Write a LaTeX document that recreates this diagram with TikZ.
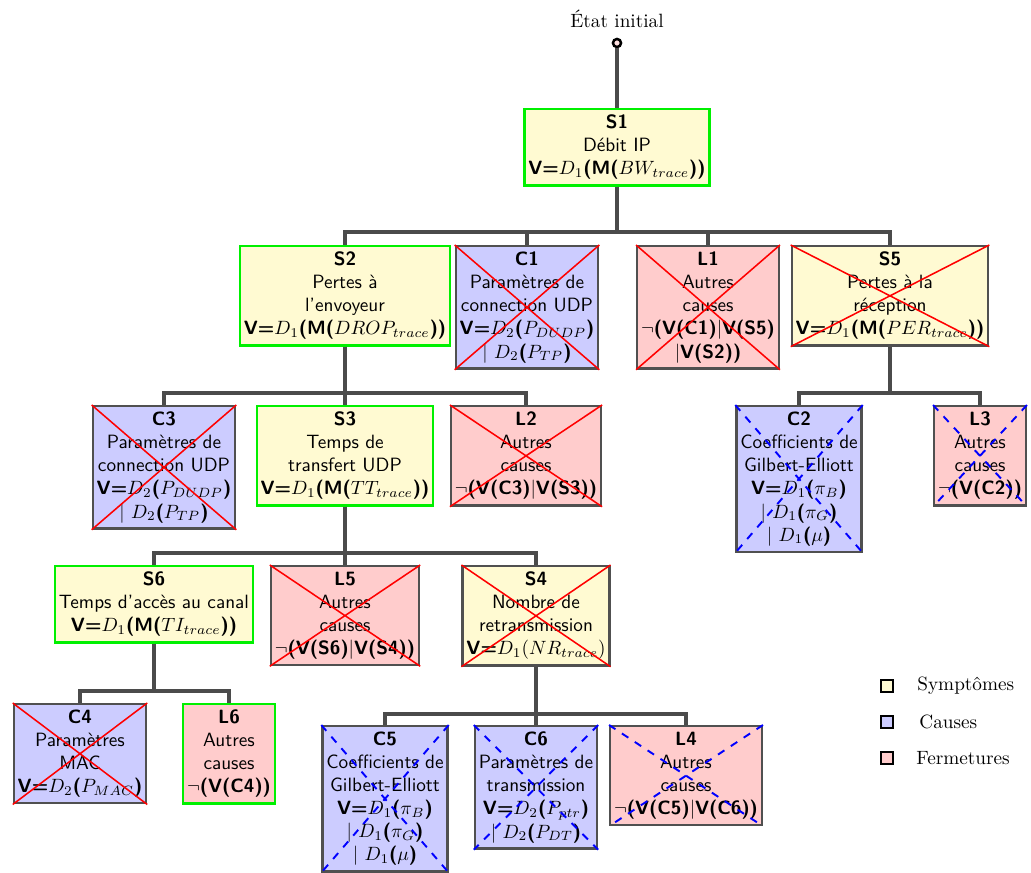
\documentclass[tikz,border=0pt]{standalone}
\usetikzlibrary{calc}
\definecolor{boxgray}{RGB}{80,80,80}
\definecolor{linegray}{RGB}{75,75,75}
\definecolor{okgreen}{RGB}{0,240,0}
\definecolor{sympfill}{RGB}{255,250,210}
\definecolor{causefill}{RGB}{204,204,255}
\definecolor{fermfill}{RGB}{255,204,204}
\newcommand\VV{\textbf{V=}}
\newcommand\bo[1]{\textbf{#1}}
\newcommand\mycrossred[1]{\draw[redx] (#1.north west) -- (#1.south east) (#1.north east) -- (#1.south west);}
\newcommand\mycrossblue[1]{\draw[bluex] (#1.north west) -- (#1.south east) (#1.north east) -- (#1.south west);}
\begin{document}
\begin{tikzpicture}[x=0.52pt,y=-0.52pt,
  box/.style={draw=boxgray, line width=1.2pt, align=center, font=\sffamily, inner xsep=2pt, inner ysep=3pt, anchor=north},
  symp/.style={box, fill=sympfill},
  cause/.style={box, fill=causefill},
  ferm/.style={box, fill=fermfill},
  okbox/.style={draw=okgreen},
  conn/.style={draw=linegray, line width=1.8pt},
  redx/.style={draw=red, line width=0.8pt},
  bluex/.style={draw=blue, line width=1pt, dash pattern=on 4pt off 4pt},
  legsq/.style={draw=black, line width=1.1pt, minimum size=6pt, inner sep=0pt},
  legtxt/.style={anchor=west, inner sep=0pt}]
\useasboundingbox (0,0) rectangle (1031,872);

% initial state
\node (title) at (617,19) {État initial};
\node[circle, draw=black, line width=1.3pt, fill=red!12, minimum size=4.2pt, inner sep=0pt] (init) at (617,43) {};

% level 1
\node[symp, okbox] (S1) at (617,108) {\bo{S1}\\Débit IP\\\VV$D_1$\bo{(M(}$BW_{trace}$\bo{))}};

% level 2
\node[symp, okbox] (S2) at (345,245) {\bo{S2}\\Pertes à\\l'envoyeur\\\VV$D_1$\bo{(M(}$DROP_{trace}$\bo{))}};
\node[cause] (C1) at (527,245) {\bo{C1}\\Paramètres de\\connection UDP\\\VV$D_2$\bo{(}$P_{DUDP}$\bo{)}\\$|\ D_2$\bo{(}$P_{TP}$\bo{)}};
\node[ferm] (L1) at (708,245) {\bo{L1}\\Autres\\causes\\$\neg$\bo{(V(C1)}$|$\bo{V(S5)}\\$|$\bo{V(S2))}};
\node[symp] (S5) at (890,245) {\bo{S5}\\Pertes à la\\réception\\\VV$D_1$\bo{(M(}$PER_{trace}$\bo{))}};

% level 3
\node[cause] (C3) at (164,405) {\bo{C3}\\Paramètres de\\connection UDP\\\VV$D_2$\bo{(}$P_{DUDP}$\bo{)}\\$|\ D_2$\bo{(}$P_{TP}$\bo{)}};
\node[symp, okbox] (S3) at (345,405) {\bo{S3}\\Temps de\\transfert UDP\\\VV$D_1$\bo{(M(}$TT_{trace}$\bo{))}};
\node[ferm] (L2) at (526,405) {\bo{L2}\\Autres\\causes\\$\neg$\bo{(V(C3)}$|$\bo{V(S3))}};
\node[cause] (C2) at (799,405) {\bo{C2}\\Coefficients de\\Gilbert-Elliott\\\VV$D_1$\bo{(}$\pi_B$\bo{)}\\$|\ D_1$\bo{(}$\pi_G$\bo{)}\\$|\ D_1$\bo{(}$\mu$\bo{)}};
\node[ferm] (L3) at (980,405) {\bo{L3}\\Autres\\causes\\$\neg$\bo{(V(C2))}};

% level 4
\node[symp, okbox] (S6) at (154,565) {\bo{S6}\\Temps d'accès au canal\\\VV$D_1$\bo{(M(}$TI_{trace}$\bo{))}};
\node[ferm] (L5) at (345,565) {\bo{L5}\\Autres\\causes\\$\neg$\bo{(V(S6)}$|$\bo{V(S4))}};
\node[symp] (S4) at (536,565) {\bo{S4}\\Nombre de\\retransmission\\\VV$D_1(NR_{trace})$};

% level 5
\node[cause] (C4) at (80,703) {\bo{C4}\\Paramètres\\MAC\\\VV$D_2$\bo{(}$P_{MAC}$\bo{)}};
\node[ferm, okbox] (L6) at (229,703) {\bo{L6}\\Autres\\causes\\$\neg$\bo{(V(C4))}};
\node[cause] (C5) at (385,725) {\bo{C5}\\Coefficients de\\Gilbert-Elliott\\\VV$D_1$\bo{(}$\pi_B$\bo{)}\\$|\ D_1$\bo{(}$\pi_G$\bo{)}\\$|\ D_1$\bo{(}$\mu$\bo{)}};
\node[cause] (C6) at (536,725) {\bo{C6}\\Paramètres de\\transmission\\\VV$D_2$\bo{(}$P_{ptr}$\bo{)}\\$|\ D_2$\bo{(}$P_{DT}$\bo{)}};
\node[ferm] (L4) at (686,725) {\bo{L4}\\Autres\\causes\\$\neg$\bo{(V(C5)}$|$\bo{V(C6))}};

% bar coordinates
\coordinate (b1) at (617,232);
\coordinate (b2) at (345,393);
\coordinate (b5) at (890,393);
\coordinate (b3) at (345,553);
\coordinate (b6) at (154,691);
\coordinate (b4) at (536,714);

% connectors
\draw[conn] (init.south) -- (S1.north);
\foreach \c in {S2,C1,L1,S5} {\draw[conn] (S1.south) -- (S1.south |- b1) -| (\c.north);}
\foreach \c in {C3,S3,L2} {\draw[conn] (S2.south) -- (S2.south |- b2) -| (\c.north);}
\foreach \c in {C2,L3} {\draw[conn] (S5.south) -- (S5.south |- b5) -| (\c.north);}
\foreach \c in {S6,L5,S4} {\draw[conn] (S3.south) -- (S3.south |- b3) -| (\c.north);}
\foreach \c in {C4,L6} {\draw[conn] (S6.south) -- (S6.south |- b6) -| (\c.north);}
\foreach \c in {C5,C6,L4} {\draw[conn] (S4.south) -- (S4.south |- b4) -| (\c.north);}

% crosses
\mycrossred{C1}
\mycrossred{L1}
\mycrossred{S5}
\mycrossred{C3}
\mycrossred{L2}
\mycrossred{L5}
\mycrossred{S4}
\mycrossred{C4}
\mycrossblue{C2}
\mycrossblue{L3}
\mycrossblue{C5}
\mycrossblue{C6}
\mycrossblue{L4}

% legend
\node[legsq, fill=sympfill] (q1) at (887,686) {};
\node[legsq, fill=causefill] (q2) at (887,722) {};
\node[legsq, fill=fermfill] (q3) at (887,758) {};
\node[legtxt] (t1) at (917,686) {Symptômes};
\node[legtxt] (t2) at (919,722) {Causes};
\node[legtxt] (t3) at (916,758) {Fermetures};
\end{tikzpicture}
\end{document}
